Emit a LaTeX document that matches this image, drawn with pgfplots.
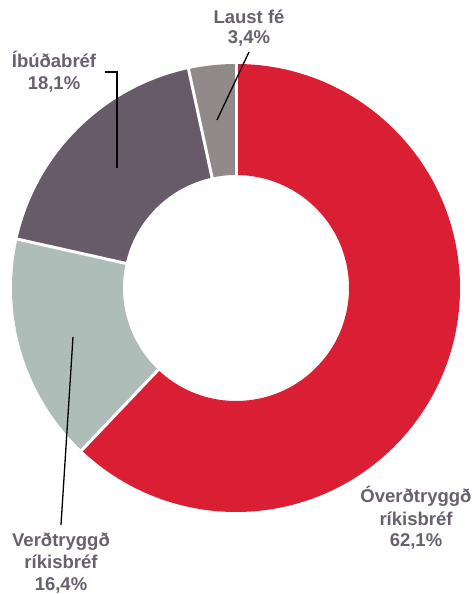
\documentclass[border=0pt]{standalone}
\usepackage{pgfplots}
\usepackage{pgfplotstable}
\pgfplotsset{compat=1.18}
\usepackage{fontspec}
\setmainfont{Liberation Sans}
\definecolor{cRed}{RGB}{218,31,53}
\definecolor{cGreen}{RGB}{175,189,184}
\definecolor{cDark}{RGB}{103,91,106}
\definecolor{cGray}{RGB}{145,138,138}
\definecolor{txt}{RGB}{105,96,110}
\pgfplotstableread{
name value col
Overdtryggd 62.1 cRed
Verdtryggd 16.4 cGreen
Ibudabref 18.1 cDark
Laustfe 3.4 cGray
}\shares
\begin{document}
\begin{tikzpicture}
\begin{axis}[
  width=475bp, height=594bp, scale only axis,
  xmin=0, xmax=475, ymin=0, ymax=594,
  axis lines=none, clip=false,
]
\def\cx{236}\def\cy{306}\def\R{224}\def\r{113}
\def\cum{0}
\pgfplotsforeachungrouped \i in {0,1,2,3}{%
  \pgfplotstablegetelem{\i}{value}\of\shares \let\val\pgfplotsretval
  \pgfplotstablegetelem{\i}{col}\of\shares \let\col\pgfplotsretval
  \pgfmathsetmacro\aone{90-3.6*\cum}%
  \pgfmathsetmacro\atwo{90-3.6*(\cum+\val)}%
  \pgfmathsetmacro\cum{\cum+\val}%
  \pgfmathsetmacro\xo{\cx+\R*cos(\aone)}%
  \pgfmathsetmacro\yo{\cy+\R*sin(\aone)}%
  \pgfmathsetmacro\xi{\cx+\r*cos(\atwo)}%
  \pgfmathsetmacro\yi{\cy+\r*sin(\atwo)}%
  \edef\temp{\noexpand\fill[\col] (axis cs:\xo,\yo) arc[start angle=\aone,end angle=\atwo,radius=\R bp] -- (axis cs:\xi,\yi) arc[start angle=\atwo,end angle=\aone,radius=\r bp] -- cycle;}%
  \temp
}
\def\cum{0}
\pgfplotsforeachungrouped \i in {0,1,2,3}{%
  \pgfplotstablegetelem{\i}{value}\of\shares \let\val\pgfplotsretval
  \pgfmathsetmacro\aone{90-3.6*\cum}%
  \pgfmathsetmacro\cum{\cum+\val}%
  \pgfmathsetmacro\xa{\cx+(\r-5)*cos(\aone)}%
  \pgfmathsetmacro\ya{\cy+(\r-5)*sin(\aone)}%
  \pgfmathsetmacro\xb{\cx+(\R+5)*cos(\aone)}%
  \pgfmathsetmacro\yb{\cy+(\R+5)*sin(\aone)}%
  \edef\temp{\noexpand\draw[white, line width=3bp] (axis cs:\xa,\ya) -- (axis cs:\xb,\yb);}%
  \temp
}
% leader lines
\draw[black, line width=1.3bp] (axis cs:249,542) -- (axis cs:217,474);
\draw[black, line width=1.3bp] (axis cs:105,522) -- (axis cs:117,522) -- (axis cs:117,426);
\draw[black, line width=1.3bp] (axis cs:73,257) -- (axis cs:61,69);
% labels
\begin{scope}[every node/.style={font=\fontsize{18.5bp}{21.5bp}\selectfont\bfseries, text=txt, anchor=base, inner sep=0pt}]
\node at (axis cs:249,570.7) {Laust fé};
\node at (axis cs:249,550) {3,4\%};
\node at (axis cs:54,526) {Íbúðabréf};
\node at (axis cs:54,504) {18,1\%};
\node at (axis cs:61,47) {Verðtryggð};
\node at (axis cs:61,26) {ríkisbréf};
\node at (axis cs:61,4) {16,4\%};
\node at (axis cs:416,91) {Óverðtryggð};
\node at (axis cs:416,68) {ríkisbréf};
\node at (axis cs:416,47) {62,1\%};
\end{scope}
\end{axis}
\pgfresetboundingbox
\useasboundingbox (0,0) rectangle (475bp,594bp);
\end{tikzpicture}
\end{document}
